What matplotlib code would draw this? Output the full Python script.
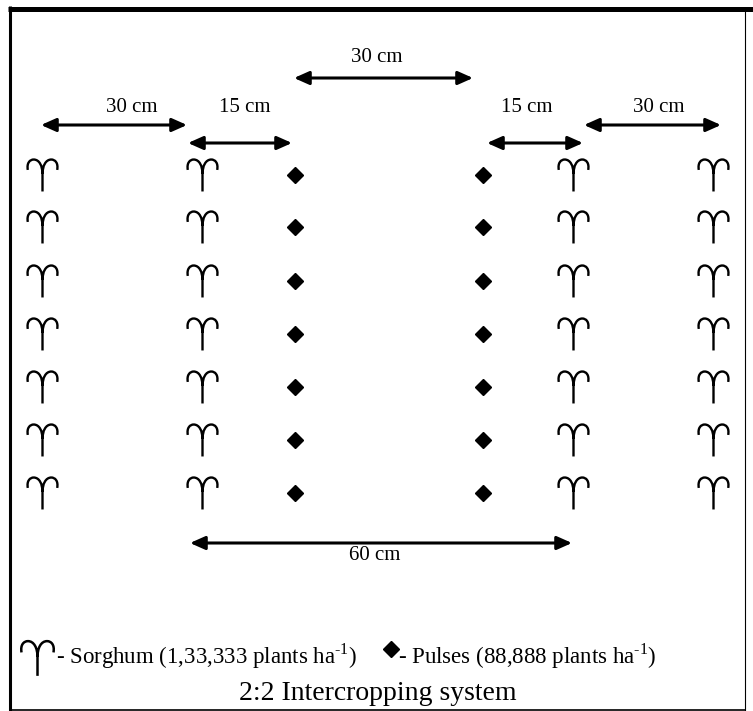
import matplotlib
matplotlib.use("Agg")
import matplotlib.pyplot as plt
from matplotlib.path import Path

plt.rcParams['font.family'] = ['Liberation Serif', 'DejaVu Serif']
plt.rcParams['mathtext.fontset'] = 'custom'
plt.rcParams['mathtext.rm'] = 'Liberation Serif'

# layout of the field (pixel-like units, y down)
sorghum_x = [42, 202, 573, 713]
pulse_x = [295, 483]
row_y = [175, 227, 281, 334, 387, 440, 493]

# spacing arrows: start x, end x, arrow y, label
span_x0 = [294, 41, 188, 487, 584, 190]
span_x1 = [473, 187, 292, 583, 721, 572]
span_y = [78, 125, 143, 143, 125, 543]
span_lab = ['30 cm', '30 cm', '15 cm', '15 cm', '30 cm', '60 cm']
lab_x = [377, 132, 245, 527, 659, 375]
lab_y = [57, 108, 108, 108, 108, 556]

legend_lab = ['- Sorghum (1,33,333 plants ha$^{\\mathregular{\u2010 1}}$)',
              '- Pulses (88,888 plants ha$^{\\mathregular{\u2010 1}}$)']

# ram-horn (aries) symbol used for sorghum
M, C, L = Path.MOVETO, Path.CURVE4, Path.LINETO
aries = Path(
    [(-0.92, 0.35), (-1.0, 0.8), (-0.78, 1.0), (-0.55, 1.0),
     (-0.2, 1.0), (0, 0.6), (0, 0.1), (0, -1.0),
     (0.92, 0.35), (1.0, 0.8), (0.78, 1.0), (0.55, 1.0),
     (0.2, 1.0), (0, 0.6), (0, 0.1)],
    [M, C, C, C, C, C, C, L, M, C, C, C, C, C, C])

fig = plt.figure(figsize=(7.53, 7.11), dpi=100)
ax = fig.add_axes([0, 0, 1, 1])
ax.set_xlim(0, 753)
ax.set_ylim(711, 0)
ax.axis('off')

# frame
ax.plot([8, 753], [8.5, 8.5], color='black', lw=3.6, solid_capstyle='butt')
ax.plot([10.5, 10.5], [6, 711], color='black', lw=2.2, solid_capstyle='butt')
ax.plot([745.5, 745.5], [10, 711], color='black', lw=0.8, solid_capstyle='butt')
ax.plot([9, 746], [709.5, 709.5], color='black', lw=1.2, solid_capstyle='butt')

# plants
for x in sorghum_x:
    ax.plot([x] * len(row_y), row_y, ls='none', marker=aries, ms=23,
            mfc='none', mec='black', mew=1.7)
for x in pulse_x:
    ax.plot([x] * len(row_y), row_y, 'D', color='black', ms=8.5, ls='none')

# spacing arrows
for x0, x1, y in zip(span_x0, span_x1, span_y):
    ax.annotate('', xy=(x1, y), xytext=(x0, y),
                arrowprops=dict(arrowstyle='<|-|>,head_length=0.9,head_width=0.4',
                                mutation_scale=10, lw=2.2, color='black',
                                shrinkA=0, shrinkB=0))
for x, y, s in zip(lab_x, lab_y, span_lab):
    ax.text(x, y, s, fontsize=15, ha='center', va='center')

# legend
ax.plot([37], [658], ls='none', marker=aries, ms=25, mfc='none', mec='black', mew=1.8)
ax.text(56, 656, legend_lab[0], fontsize=16.5, ha='left', va='center')
ax.plot([391], [649], 'D', color='black', ms=8.5)
ax.text(398, 656, legend_lab[1], fontsize=16.5, ha='left', va='center')

ax.text(378, 694, '2:2 Intercropping system', fontsize=20, ha='center', va='center')

plt.savefig('out.png', dpi=100)
